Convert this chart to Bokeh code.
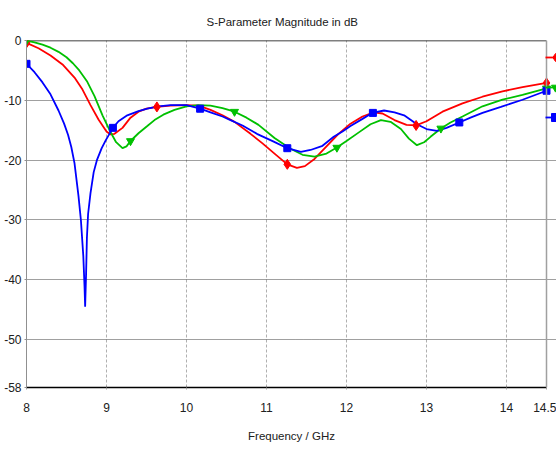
from bokeh.plotting import figure
from bokeh.models import FixedTicker, Span, Range1d, Legend, LegendItem
from bokeh.core.properties import value
from bokeh.embed import file_html
from bokeh.resources import INLINE

# ---- data ----
freq_red = [8.0, 8.15, 8.3, 8.45, 8.6, 8.7, 8.8, 8.9, 9.0, 9.05, 9.1, 9.2, 9.3, 9.4, 9.5, 9.63,
            9.8, 10.0, 10.15, 10.3, 10.45, 10.6, 10.8, 10.95, 11.1, 11.26, 11.38, 11.48, 11.6,
            11.75, 11.9, 12.05, 12.2, 12.34, 12.45, 12.6, 12.75, 12.87, 13.0, 13.2, 13.45,
            13.7, 13.95, 14.2, 14.5]
s_red = [-0.4, -1.3, -2.5, -4.0, -6.2, -8.2, -10.8, -13.2, -15.2, -15.7, -15.6, -14.6, -12.9,
         -11.9, -11.4, -11.1, -10.9, -10.8, -10.9, -11.6, -12.5, -13.6, -15.6, -17.2, -18.9,
         -20.7, -21.3, -21.0, -19.8, -17.7, -15.6, -13.9, -12.7, -12.0, -12.2, -13.3, -14.1,
         -14.2, -13.5, -11.9, -10.5, -9.4, -8.5, -7.8, -7.1]

freq_green = [8.0, 8.1, 8.2, 8.3, 8.4, 8.5, 8.58, 8.66, 8.76, 8.85, 8.95, 9.05, 9.12, 9.2,
              9.25, 9.3, 9.4, 9.51, 9.6, 9.71, 9.85, 10.0, 10.15, 10.3, 10.45, 10.6, 10.75,
              10.9, 11.1, 11.3, 11.45, 11.6, 11.75, 11.88, 12.0, 12.15, 12.3, 12.43, 12.55,
              12.68, 12.78, 12.88, 12.97, 13.05, 13.18, 13.3, 13.45, 13.7, 13.95, 14.2, 14.5]
s_green = [0.0, -0.3, -0.7, -1.2, -1.9, -2.8, -3.8, -5.0, -6.9, -9.3, -12.5, -15.3, -17.0,
           -18.0, -17.7, -16.8, -15.5, -14.3, -13.3, -12.4, -11.6, -11.0, -10.8, -10.9, -11.3,
           -11.9, -12.9, -14.1, -16.3, -18.1, -19.1, -19.4, -18.9, -17.9, -16.8, -15.4, -14.0,
           -13.3, -13.6, -14.8, -16.4, -17.5, -17.0, -16.1, -14.7, -13.7, -12.7, -11.0, -9.9,
           -9.1, -8.0]

freq_blue = [8.0, 8.1, 8.2, 8.3, 8.4, 8.47, 8.52, 8.56, 8.6, 8.65, 8.68, 8.71, 8.725, 8.733,
             8.745, 8.755, 8.77, 8.8, 8.84, 8.88, 8.94, 8.99, 9.08, 9.15, 9.26, 9.4, 9.51,
             9.65, 9.8, 10.0, 10.17, 10.3, 10.45, 10.55, 10.7, 10.88, 11.09, 11.26, 11.43,
             11.55, 11.7, 11.84, 11.95, 12.05, 12.2, 12.32, 12.47, 12.6, 12.72, 12.88, 13.0,
             13.13, 13.25, 13.41, 13.55, 13.7, 13.93, 14.2, 14.5]
s_blue = [-3.9, -5.3, -7.0, -9.0, -11.7, -13.9, -15.8, -17.8, -20.5, -26.0, -30.0, -36.0,
          -41.0, -44.5, -39.0, -33.0, -29.0, -25.5, -22.0, -20.0, -18.0, -16.7, -14.6, -13.5,
          -12.5, -11.8, -11.4, -11.0, -10.8, -10.8, -11.4, -12.0, -12.7, -13.3, -14.2, -15.6,
          -16.9, -18.0, -18.6, -18.3, -17.6, -16.1, -15.2, -14.3, -13.1, -12.1, -11.7, -12.0,
          -12.5, -14.0, -14.8, -15.1, -14.6, -13.7, -12.9, -12.1, -11.1, -9.9, -8.4]

mk_freq_red = [8.0, 9.63, 11.26, 12.87, 14.5]
mk_red = [-0.4, -11.1, -20.7, -14.2, -7.1]
mk_freq_green = [8.0, 9.3, 10.6, 11.88, 13.18, 14.5]
mk_green = [0.0, -16.8, -11.9, -17.9, -14.7, -8.0]
mk_freq_blue = [8.0, 9.08, 10.17, 11.26, 12.33, 13.41, 14.5]
mk_blue = [-3.9, -14.6, -11.4, -18.0, -12.1, -13.7, -8.4]

x_ticks = [8, 9, 10, 11, 12, 13, 14, 14.5]
x_tick_labels = ["8", "9", "10", "11", "12", "13", "14", "14.5"]
y_ticks = [0, -10, -20, -30, -40, -50, -58]
y_tick_labels = ["0", "-10", "-20", "-30", "-40", "-50", "-58"]

F_MIN, F_MAX = 8, 14.5
DB_MIN, DB_MAX = -58, 0

RED, GREEN, BLUE = "#ff0000", "#00c000", "#0000ff"
FONT = "Liberation Sans"

# the frame runs 10 px past 14.5 GHz so the legend glyphs can sit at the window's edge
p = figure(width=556, height=450, output_backend="svg", toolbar_location=None,
           x_range=Range1d(F_MIN, F_MAX + 0.125), y_range=Range1d(DB_MIN, DB_MAX),
           min_border_left=26, min_border_right=0, min_border_top=40, min_border_bottom=63,
           title="S-Parameter Magnitude in dB", x_axis_label="Frequency / GHz")
p.background_fill_color = "white"
p.border_fill_color = "white"
p.outline_line_color = None

p.title.align = "left"
p.title.offset = 180
p.title.text_font = FONT
p.title.text_font_size = "11.5px"
p.title.text_font_style = "normal"
p.title.text_color = "#202020"
p.title.standoff = 25

p.xaxis.ticker = FixedTicker(ticks=x_ticks)
p.yaxis.ticker = FixedTicker(ticks=y_ticks)
p.xaxis.major_label_overrides = {float(t): l for t, l in zip(x_ticks, x_tick_labels)}
p.yaxis.major_label_overrides = {float(t): l for t, l in zip(y_ticks, y_tick_labels)}
for ax in (p.xaxis, p.yaxis):
    ax.major_label_text_font = FONT
    ax.major_label_text_font_size = "12px"
    ax.major_label_text_color = "#202020"
    ax.minor_tick_line_color = None
    ax.major_tick_in = 0
    ax.major_tick_out = 2
p.xaxis.bounds = (F_MIN, F_MAX)
p.xaxis.axis_line_color = "black"
p.xaxis.axis_line_width = 1.5
p.xaxis.major_tick_line_color = "#a0a0a0"
p.yaxis.axis_line_color = "#909090"
p.yaxis.major_tick_line_color = "#909090"
p.xaxis.major_label_standoff = 13
p.yaxis.major_label_standoff = 3
p.xaxis.axis_label_text_font = FONT
p.xaxis.axis_label_text_font_size = "11.5px"
p.xaxis.axis_label_text_font_style = "normal"
p.xaxis.axis_label_text_color = "#202020"
p.xaxis.axis_label_standoff = 15

p.xgrid.ticker = FixedTicker(ticks=x_ticks[1:-1])
p.ygrid.ticker = FixedTicker(ticks=y_ticks[1:-1])
p.ygrid.bounds = (F_MIN, F_MAX)
p.xgrid.grid_line_color = "#b0b0b0"
p.xgrid.grid_line_dash = "3 2"
p.xgrid.grid_line_width = 1
p.ygrid.grid_line_color = "#404040"
p.ygrid.grid_line_dash = "1 1"
p.ygrid.grid_line_width = 1

# right border of the plot area and the solid 0 dB line along its top
p.add_layout(Span(location=F_MAX, dimension="height", line_color="#a0a0a0", line_width=1.5))
p.segment(x0=[F_MIN], y0=[DB_MAX], x1=[F_MAX], y1=[DB_MAX], line_color="black", line_width=1.5)

lr = p.line(freq_red, s_red, line_color=RED, line_width=1.8)
lgn = p.line(freq_green, s_green, line_color=GREEN, line_width=1.8)
lb = p.line(freq_blue, s_blue, line_color=BLUE, line_width=1.8)
mr = p.scatter(mk_freq_red, mk_red, marker="diamond", size=10, color=RED)
mg = p.scatter(mk_freq_green, mk_green, marker="inverted_triangle", size=8, color=GREEN)
mb = p.scatter(mk_freq_blue, mk_blue, marker="square", size=7, color=BLUE)

# legend glyphs at the right edge (their labels fall outside the window)
for rends, vy in (([lr, mr], 318), ([lgn, mg], 288), ([lb, mb], 258)):
    leg = Legend(items=[LegendItem(label=value(" "), renderers=rends)], location=(519, vy),
                 padding=0, margin=0, spacing=0, glyph_width=20, glyph_height=24,
                 label_width=1, label_height=24, label_standoff=0,
                 label_text_font_size="1px",
                 border_line_alpha=0, background_fill_alpha=0)
    p.add_layout(leg, "center")

open("out.html", "w").write(file_html(p, INLINE))
